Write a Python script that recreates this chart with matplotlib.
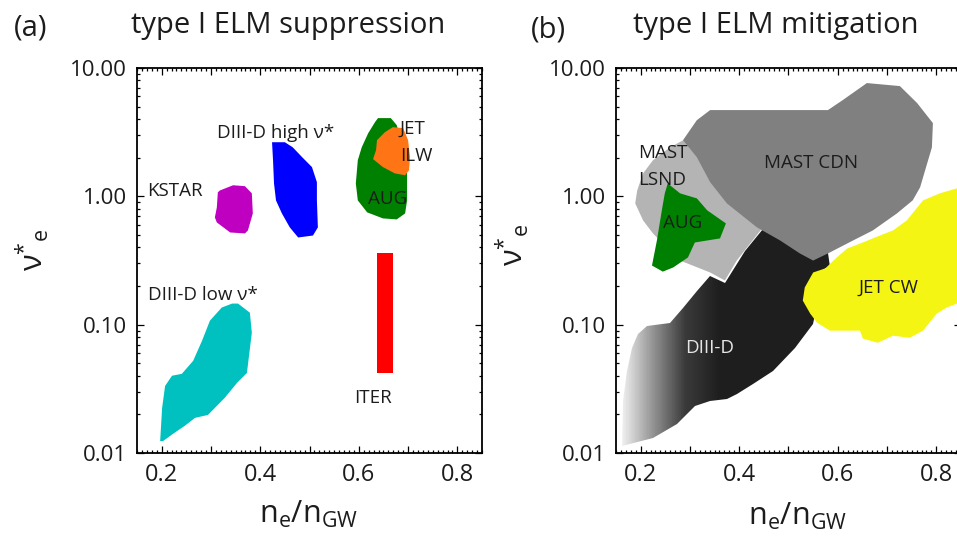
import numpy as np
import matplotlib
matplotlib.use("Agg")
import matplotlib.pyplot as plt
from matplotlib.patches import Polygon
from matplotlib.colors import LinearSegmentedColormap, Normalize
from matplotlib.ticker import (MultipleLocator, FixedLocator, LogLocator,
                               FuncFormatter, NullFormatter)

plt.rcParams['font.family'] = ['Open Sans', 'DejaVu Sans']
plt.rcParams['mathtext.fontset'] = 'custom'
plt.rcParams['mathtext.rm'] = 'Open Sans'
plt.rcParams['mathtext.it'] = 'Open Sans:italic'
plt.rcParams['mathtext.bf'] = 'Open Sans:bold'

# ---- (a) type I ELM suppression windows: ne/nGW vs nu*_e ----
kstar_x = [0.318, 0.345, 0.369, 0.383, 0.385, 0.375, 0.369, 0.339, 0.312, 0.308, 0.312, 0.314]
kstar_y = [1.11, 1.22, 1.20, 1.055, 0.736, 0.542, 0.514, 0.523, 0.626, 0.685, 0.82, 1.074]

d3d_high_x = [0.424, 0.450, 0.466, 0.485, 0.505, 0.515, 0.515, 0.517, 0.507, 0.477,
              0.460, 0.444, 0.432, 0.428, 0.426]
d3d_high_y = [2.64, 2.64, 2.41, 2.02, 1.69, 1.29, 0.93, 0.573, 0.495, 0.478,
              0.573, 0.736, 0.93, 1.26, 1.91]

aug_a_x = [0.639, 0.665, 0.677, 0.696, 0.698, 0.698, 0.694, 0.677, 0.649, 0.617,
           0.598, 0.594, 0.598, 0.606, 0.619, 0.633]
aug_a_y = [4.07, 4.07, 3.59, 1.91, 1.51, 0.93, 0.736, 0.661, 0.673, 0.75,
           0.93, 1.26, 1.91, 2.41, 3.10, 3.79]

jet_ilw_x = [0.653, 0.669, 0.690, 0.700, 0.704, 0.702, 0.694, 0.673, 0.649, 0.629, 0.635, 0.637]
jet_ilw_y = [3.16, 3.46, 3.40, 2.74, 2.02, 1.60, 1.46, 1.51, 1.69, 1.95, 2.29, 2.74]

d3d_low_x = [0.197, 0.201, 0.207, 0.221, 0.241, 0.264, 0.282, 0.298, 0.322, 0.343, 0.355,
             0.379, 0.383, 0.373, 0.353, 0.328, 0.294, 0.268, 0.247, 0.223, 0.203]
d3d_low_y = [0.0124, 0.0225, 0.0333, 0.040, 0.0414, 0.0523, 0.075, 0.1075, 0.136, 0.146, 0.146,
             0.124, 0.0866, 0.042, 0.0352, 0.0269, 0.0198, 0.0188, 0.0163, 0.0141, 0.0124]

iter_ne = [0.637, 0.669]
iter_nu = [0.042, 0.365]

# ---- (b) type I ELM mitigation windows ----
mast_cdn_x = [0.286, 0.314, 0.341, 0.580, 0.610, 0.659, 0.726, 0.761, 0.793, 0.791, 0.767,
              0.752, 0.720, 0.671, 0.631, 0.580, 0.550, 0.523, 0.483, 0.436, 0.375, 0.341, 0.314]
mast_cdn_y = [2.74, 3.92, 4.70, 4.70, 5.62, 7.63, 7.23, 5.33, 3.72, 2.41, 1.175,
              0.93, 0.736, 0.542, 0.453, 0.359, 0.316, 0.359, 0.453, 0.573, 0.881, 1.29, 2.02]

mast_lsnd_x = [0.189, 0.193, 0.205, 0.225, 0.260, 0.294, 0.361, 0.442, 0.448, 0.395, 0.371,
               0.341, 0.280, 0.253, 0.225, 0.205]
mast_lsnd_y = [0.881, 1.11, 1.51, 1.91, 2.41, 2.84, 2.29, 0.93, 0.573, 0.316, 0.221,
               0.255, 0.316, 0.40, 0.514, 0.649]

aug_b_x = [0.255, 0.280, 0.314, 0.335, 0.373, 0.361, 0.310, 0.296, 0.266, 0.245, 0.223,
           0.233, 0.243, 0.249]
aug_b_y = [1.26, 1.055, 0.964, 0.778, 0.615, 0.47, 0.437, 0.334, 0.279, 0.259, 0.289,
           0.453, 0.778, 1.055]

d3d_b_x = [0.162, 0.164, 0.172, 0.182, 0.195, 0.213, 0.260, 0.286, 0.314, 0.341, 0.371,
           0.412, 0.448, 0.503, 0.580, 0.584, 0.564, 0.550, 0.513, 0.468, 0.428, 0.395,
           0.375, 0.341, 0.310, 0.294, 0.274, 0.225]
d3d_b_y = [0.0113, 0.0255, 0.0437, 0.0661, 0.0851, 0.0982, 0.1037, 0.136, 0.184, 0.241, 0.213,
           0.378, 0.56, 0.453, 0.359, 0.279, 0.184, 0.102, 0.0661, 0.0437, 0.0346, 0.0289,
           0.0264, 0.0255, 0.0233, 0.0202, 0.0169, 0.0131]

jet_cw_x = [0.570, 0.598, 0.619, 0.651, 0.686, 0.712, 0.740, 0.773, 0.807, 0.842, 0.870,
            0.870, 0.842, 0.821, 0.801, 0.773, 0.746, 0.712, 0.681, 0.651, 0.645, 0.619,
            0.584, 0.558, 0.544, 0.529, 0.533, 0.550, 0.580]
jet_cw_y = [0.264, 0.334, 0.392, 0.437, 0.496, 0.542, 0.649, 0.93, 1.055, 1.155, 1.22,
            0.15, 0.146, 0.136, 0.122, 0.0898, 0.079, 0.082, 0.0723, 0.0778, 0.0898, 0.0898,
            0.0898, 0.1037, 0.122, 0.154, 0.195, 0.255, 0.279]

TXT = '#1c1c1c'
W, H = 957, 536


def box(l, t, r, b):
    return [l / W, 1 - b / H, (r - l) / W, (b - t) / H]


def style(ax):
    ax.set_yscale('log')
    ax.set_xlim(0.15, 0.85)
    ax.set_ylim(0.01, 10)
    ax.xaxis.set_major_locator(MultipleLocator(0.1))
    ax.xaxis.set_minor_locator(MultipleLocator(0.01))
    ax.xaxis.set_major_formatter(FuncFormatter(
        lambda v, p: f'{v:.1f}' if int(round(v * 10)) % 2 == 0 else ''))
    ax.yaxis.set_major_locator(FixedLocator([0.01, 0.1, 1, 10]))
    ax.yaxis.set_major_formatter(FuncFormatter(lambda v, p: f'{v:.2f}'))
    ax.yaxis.set_minor_locator(LogLocator(base=10, subs=np.arange(2, 10)))
    ax.yaxis.set_minor_formatter(NullFormatter())
    ax.tick_params(which='both', direction='in', top=True, right=True,
                   width=0.9, colors='black', labelcolor=TXT)
    ax.tick_params(which='major', length=5)
    ax.tick_params(which='minor', length=2.3)
    ax.tick_params(axis='x', labelsize=17, pad=7)
    ax.tick_params(axis='y', labelsize=16, pad=7)
    for s in ax.spines.values():
        s.set_linewidth(1.3)


def region(ax, xs, ys, color, z=2):
    ax.add_patch(Polygon(np.column_stack([xs, ys]), closed=True,
                         facecolor=color, edgecolor='none', zorder=z))


fig = plt.figure(figsize=(9.57, 5.36), dpi=100)
ax1 = fig.add_axes(box(137, 68, 482, 453))
ax2 = fig.add_axes(box(616, 68, 961, 453))
style(ax1)
style(ax2)

# (a)
region(ax1, kstar_x, kstar_y, '#c000c0')
region(ax1, d3d_high_x, d3d_high_y, '#0000ff')
region(ax1, aug_a_x, aug_a_y, '#008000')
region(ax1, jet_ilw_x, jet_ilw_y, '#ff7414', z=3)
region(ax1, d3d_low_x, d3d_low_y, '#00c0c0')
ax1.bar((iter_ne[0] + iter_ne[1]) / 2, iter_nu[1] - iter_nu[0], bottom=iter_nu[0],
        width=iter_ne[1] - iter_ne[0], color='#ff0000', zorder=2)

lab = dict(fontsize=13.5, color=TXT, zorder=5)
ax1.text(0.17, 1.11, 'KSTAR', va='center', ha='left', **lab)
ax1.text(0.312, 3.1, 'DIII-D high ν*', va='center', ha='left', **lab)
ax1.text(0.683, 3.35, 'JET', va='center', ha='left', **lab)
ax1.text(0.683, 2.07, 'ILW', va='center', ha='left', **lab)
ax1.text(0.659, 0.948, 'AUG', va='center', ha='center', **lab)
ax1.text(0.172, 0.169, 'DIII-D low ν*', va='center', ha='left', **lab)
ax1.text(0.629, 0.027, 'ITER', va='center', ha='center', **lab)

# (b) DIII-D window shaded dark with a light left edge
d3d_patch = Polygon(np.column_stack([d3d_b_x, d3d_b_y]), closed=True,
                    facecolor='none', edgecolor='none')
ax2.add_patch(d3d_patch)
shade = LinearSegmentedColormap.from_list(
    'shade', [(0.0, '#f4f4f4'), (0.3, '#9a9a9a'), (0.65, '#3a3a3a'), (1.0, '#1e1e1e')])
gx = np.linspace(0.15, 0.60, 300)
gy = np.array([0.005, 1.0])
mesh = ax2.pcolormesh(gx, gy, ((gx[:-1] + gx[1:]) / 2)[None, :], cmap=shade,
                      norm=Normalize(0.16, 0.36), shading='flat', zorder=1.5)
mesh.set_clip_path(d3d_patch)

region(ax2, mast_lsnd_x, mast_lsnd_y, '#b4b4b4', z=2)
region(ax2, mast_cdn_x, mast_cdn_y, '#808080', z=2.2)
region(ax2, aug_b_x, aug_b_y, '#008000', z=2.4)
region(ax2, jet_cw_x, jet_cw_y, '#f5f514', z=2.6)

ax2.text(0.195, 2.17, 'MAST', va='center', ha='left', **lab)
ax2.text(0.195, 1.33, 'LSND', va='center', ha='left', **lab)
ax2.text(0.546, 1.81, 'MAST CDN', va='center', ha='center', **lab)
ax2.text(0.286, 0.615, 'AUG', va='center', ha='center', **lab)
ax2.text(0.702, 0.195, 'JET CW', va='center', ha='center', **lab)
ax2.text(0.339, 0.066, 'DIII-D', va='center', ha='center', fontsize=13.5,
         color='#e6e6e6', zorder=5)

# panel titles and axis labels
fig.text(14 / W, 1 - 36 / H, '(a)', fontsize=21, color=TXT, va='baseline', ha='left')
fig.text(288 / W, 1 - 33 / H, 'type I ELM suppression', fontsize=21, color=TXT,
         va='baseline', ha='center')
fig.text(531 / W, 1 - 37 / H, '(b)', fontsize=21, color=TXT, va='baseline', ha='left')
fig.text(776 / W, 1 - 33 / H, 'type I ELM mitigation', fontsize=21, color=TXT,
         va='baseline', ha='center')

xl = r'$\mathrm{n_e/n_{GW}}$'
fig.text(308 / W, 1 - 523 / H, xl, fontsize=22, color=TXT, va='baseline', ha='center')
fig.text(797 / W, 1 - 525 / H, xl, fontsize=22, color=TXT, va='baseline', ha='center')
yl = r'$\mathrm{\nu}^{*}{}_{\mathrm{e}}$'
fig.text(32 / W, 1 - 250 / H, yl, fontsize=22, color=TXT, rotation=90,
         va='center', ha='center')
fig.text(512 / W, 1 - 245 / H, yl, fontsize=22, color=TXT, rotation=90,
         va='center', ha='center')

fig.savefig('out.png', dpi=100)
